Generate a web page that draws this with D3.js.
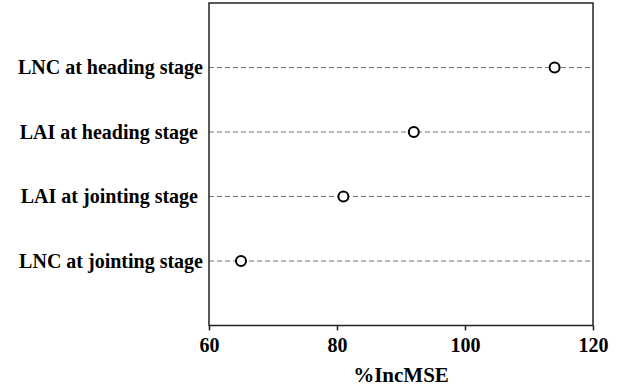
<!DOCTYPE html>
<html>
<head>
<meta charset="utf-8">
<script src="https://cdn.jsdelivr.net/npm/d3@7"></script>
<style>
  body { margin: 0; background: #fff; }
</style>
</head>
<body>
<svg id="chart" width="627" height="392"></svg>
<script>
// variables, top to bottom (the LAI labels carry a trailing space in the original)
var variables = ['LNC at heading stage', 'LAI at heading stage ', 'LAI at jointing stage ', 'LNC at jointing stage'];
var incMSE = [114, 92, 81, 65];
var xTicks = [60, 80, 100, 120];

var svg = d3.select('#chart');
var plotLeft = 209, plotRight = 593, plotTop = 3, plotBottom = 325.5;
var font = "'Liberation Serif', 'Times New Roman', serif";

var x = d3.scaleLinear().domain([60, 120]).range([plotLeft, plotRight]);
var y = d3.scalePoint().domain(variables).range([plotTop, plotBottom]).padding(1);

// dashed guide lines
svg.selectAll('line.guide')
  .data(variables)
  .enter()
  .append('line')
  .attr('class', 'guide')
  .attr('x1', plotLeft)
  .attr('x2', plotRight)
  .attr('y1', d => y(d))
  .attr('y2', d => y(d))
  .attr('stroke', '#777')
  .attr('stroke-width', 1)
  .attr('stroke-dasharray', '5,3');

// frame
svg.append('rect')
  .attr('x', plotLeft)
  .attr('y', plotTop)
  .attr('width', plotRight - plotLeft)
  .attr('height', plotBottom - plotTop)
  .attr('fill', 'none')
  .attr('stroke', '#222')
  .attr('stroke-width', 1.5);

// bottom axis
var xAxis = svg.append('g')
  .attr('transform', 'translate(0,' + plotBottom + ')')
  .call(d3.axisBottom(x).tickValues(xTicks).tickSize(5).tickPadding(7));
xAxis.select('.domain').remove();
xAxis.selectAll('line').attr('stroke', '#222').attr('stroke-width', 1.5);
xAxis.selectAll('text')
  .style('font-family', font)
  .style('font-size', '20px')
  .style('font-weight', 'bold')
  .attr('fill', '#000');

// left labels
var yAxis = svg.append('g')
  .attr('transform', 'translate(' + plotLeft + ',0)')
  .call(d3.axisLeft(y).tickSize(0).tickPadding(6));
yAxis.select('.domain').remove();
yAxis.selectAll('text')
  .style('font-family', font)
  .style('font-size', '20px')
  .style('font-weight', 'bold')
  .style('white-space', 'pre')
  .attr('fill', '#000');

// points
svg.selectAll('circle.pt')
  .data(variables)
  .enter()
  .append('circle')
  .attr('class', 'pt')
  .attr('cx', (d, i) => x(incMSE[i]))
  .attr('cy', d => y(d))
  .attr('r', 5)
  .attr('fill', '#fff')
  .attr('stroke', '#000')
  .attr('stroke-width', 2);

// axis title
svg.append('text')
  .attr('x', (plotLeft + plotRight) / 2)
  .attr('y', 382)
  .attr('text-anchor', 'middle')
  .style('font-family', font)
  .style('font-size', '21px')
  .style('font-weight', 'bold')
  .text('%IncMSE');
</script>
</body>
</html>
